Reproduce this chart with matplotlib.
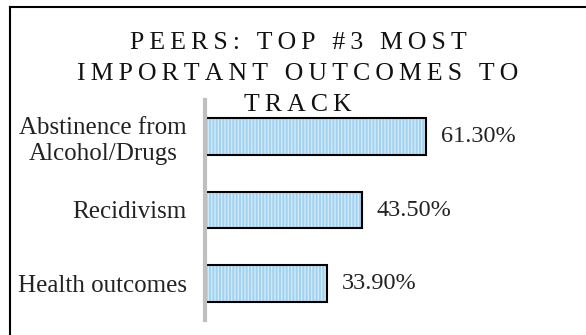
import matplotlib.pyplot as plt
from matplotlib.lines import Line2D

plt.rcParams['font.family'] = ['Liberation Serif', 'DejaVu Serif']
plt.rcParams['hatch.linewidth'] = 0.9

categories = ['Abstinence from\nAlcohol/Drugs', 'Recidivism', 'Health outcomes']
values = [61.3, 43.5, 33.9]
title_lines = ['PEERS: TOP #3 MOST', 'IMPORTANT OUTCOMES TO', 'TRACK']


def spaced(text, gap='\u2009'):
    # widen the tracking of the heading
    return gap.join(text)


fig = plt.figure(figsize=(5.86, 3.35), dpi=100)
ax = fig.add_axes([205 / 586, 1 - 320 / 335, 252 / 586, 220 / 335])

pos = list(range(len(values)))
ax.barh(pos, values, height=0.5, color='#a3d2f1', edgecolor='#d6edfa',
        linewidth=0, hatch='|||||')
ax.barh(pos, values, height=0.5, facecolor='none', edgecolor='black',
        linewidth=1.5)

for y, v in zip(pos, values):
    ax.text(v + 4.2, y, f'{v:.2f}%', va='center', ha='left', fontsize=17.5,
            color='#222222')

ax.set_xlim(0, 70)
ax.set_ylim(2.5, -0.5)
ax.set_yticks(pos)
ax.set_yticklabels(categories, fontsize=18, color='#222222',
                   multialignment='center', linespacing=1.2)
ax.tick_params(axis='y', length=0, pad=13)
ax.set_xticks([])
for side in ['top', 'right', 'bottom']:
    ax.spines[side].set_visible(False)
ax.spines['left'].set_color('#bfbfbf')
ax.spines['left'].set_linewidth(3)

title_y = [1 - 49 / 335, 1 - 80 / 335, 1 - 111 / 335]
for line, y in zip(title_lines, title_y):
    fig.text(298 / 586, y, spaced(line), ha='center', va='baseline',
             fontsize=18.5, color='#111111')

# chart frame (left and top edges)
x0, y0 = 10 / 586, 1 - 7 / 335
fig.add_artist(Line2D([x0, x0], [0, y0], color='black', linewidth=1.5))
fig.add_artist(Line2D([x0, 1], [y0, y0], color='black', linewidth=1.5))

fig.savefig('out.png', dpi=100)
